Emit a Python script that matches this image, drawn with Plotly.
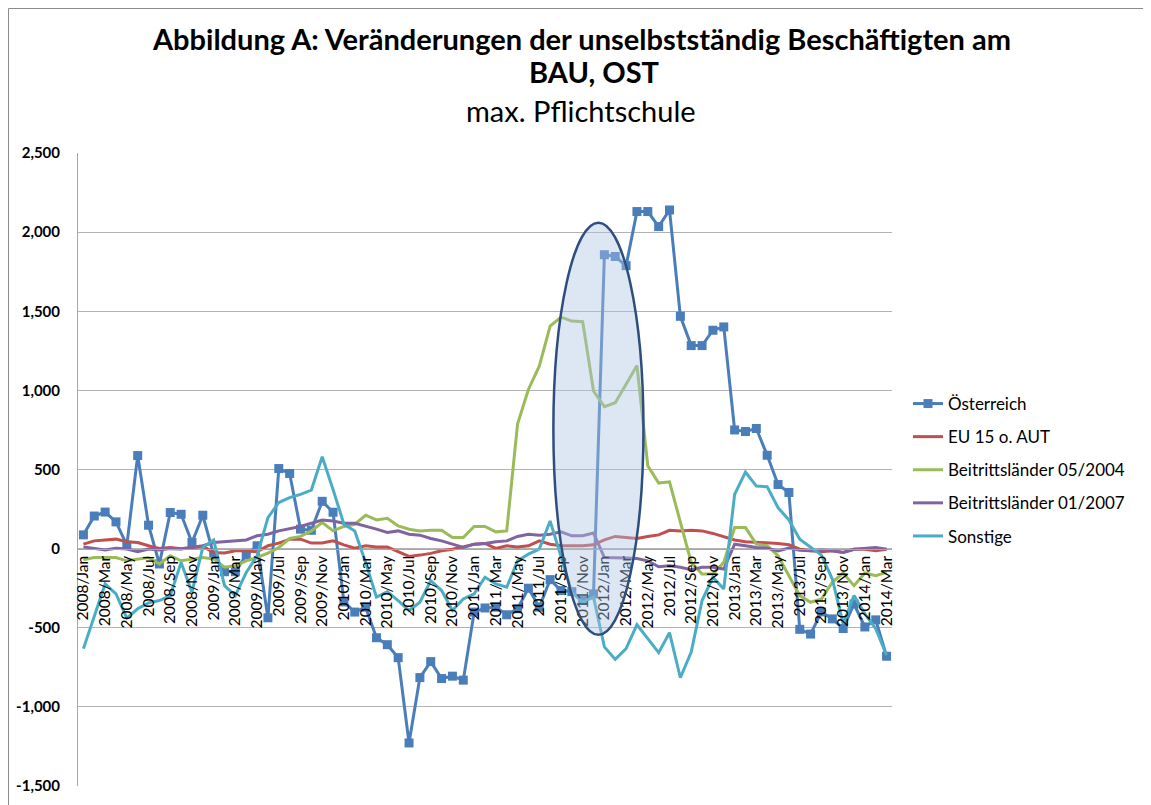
import plotly.graph_objects as go

years = [2008, 2009, 2010, 2011, 2012, 2013, 2014]
months = ["Jan", "Feb", "Mar", "Apr", "May", "Jun", "Jul", "Aug", "Sep", "Oct", "Nov", "Dec"]
categories = [f"{y}/{m}" for y in years for m in months][:75]

oesterreich = [87, 206, 231, 169, 22, 588, 148, -97, 228, 217, 39, 211,
               -40, -146, -146, -40, 18, -437, 506, 475, 123, 116, 299, 230,
               -337, -401, -370, -563, -607, -689, -1228, -815, -714, -821, -806, -831,
               -401, -375, -370, -418, -380, -250, -370, -196, -265, -272, -328, -286,
               1857, 1846, 1788, 2130, 2130, 2035, 2140, 1468, 1283, 1283, 1380, 1401,
               750, 740, 759, 590, 405, 355, -510, -540, -400, -444, -505, -350,
               -495, -450, -680]
eu15 = [28, 49, 55, 60, 43, 39, 18, 1, 7, 0, 7, 14,
        -24, -28, -14, -14, -20, 18, 35, 60, 60, 35, 35, 49,
        24, 3, 18, 11, 11, -20, -49, -41, -30, -14, -4, 11,
        28, 33, 1, 18, 11, 18, 49, 28, 18, 18, 18, 24,
        55, 77, 70, 64, 77, 87, 116, 112, 116, 112, 96, 74,
        55, 43, 39, 39, 33, 24, -4, -14, -20, -14, -24, -4,
        -4, -14, -4]
bl2004 = [-70, -56, -56, -56, -77, -66, -56, -97, -45, -77, -66, -56,
          -66, -118, -108, -77, -56, -28, 7, 64, 77, 112, 165, 112,
          140, 154, 211, 181, 192, 143, 123, 112, 116, 116, 70, 70,
          140, 140, 106, 112, 787, 1006, 1153, 1406, 1463, 1438, 1434, 996,
          897, 922, 1038, 1157, 524, 414, 422, 170, -87, -160, -160, -87,
          133, 133, 28, 18, -45, -171, -297, -339, -318, -213, -154, -234,
          -154, -171, -150]
bl2007 = [11, 3, -8, 3, -2, -20, -2, -8, 0, -2, 7, 18,
          39, 43, 49, 55, 81, 91, 112, 127, 140, 160, 181, 175,
          160, 160, 143, 123, 102, 112, 91, 85, 64, 49, 28, 7,
          28, 33, 43, 49, 77, 91, 85, 91, 106, 81, 81, 98,
          -56, -60, -60, -62, -77, -115, -108, -118, -133, -118, -118, -129,
          28, 18, 7, 3, -14, 3, -10, -14, -8, -14, -24, -4,
          3, 7, -4]
sonstige = [-632, -423, -223, -286, -439, -380, -343, -328, -297, -87, -275, 7,
            55, -234, -297, -150, -45, 196, 291, 322, 343, 370, 580, 374,
            154, 112, -87, -307, -272, -328, -391, -339, -202, -265, -391, -318,
            -286, -181, -223, -244, -77, -35, -3, 175, -45, -275, -339, -307,
            -621, -700, -632, -481, -569, -657, -531, -816, -653, -328, -181, -255,
            343, 483, 395, 391, 259, 181, 60, 7, -41, -192, -475, -297,
            -412, -506, -674]

series_names = ["Österreich", "EU 15 o. AUT", "Beitrittsländer 05/2004",
                "Beitrittsländer 01/2007", "Sonstige"]
series_values = [oesterreich, eu15, bl2004, bl2007, sonstige]
series_colors = ["#4A7EBB", "#C0504D", "#9BBB59", "#8064A2", "#4BACC6"]

y_ticks = [-1500, -1000, -500, 0, 500, 1000, 1500, 2000, 2500]
y_ticktext = ["-1,500", "-1,000", "-500", "0", "500", "1,000", "1,500", "2,000", "2,500"]
x_tickvals = categories[::2]

FONT = "Lato, 'Open Sans', sans-serif"

fig = go.Figure()
for i, (name, vals, col) in enumerate(zip(series_names, series_values, series_colors)):
    is_main = (i == 0)
    fig.add_trace(go.Scatter(
        x=categories, y=vals, name=name,
        mode="lines+markers" if is_main else "lines",
        line=dict(color=col, width=3),
        marker=dict(symbol="square", size=9, color=col) if is_main else None,
        legendgroup=f"g{i}",
    ))

# Highlight ellipse (drawn on top, semi-transparent)
fig.add_shape(type="circle", xref="x", yref="y",
              x0=43.3, x1=51.6, y0=-545, y1=2060,
              line=dict(color="#2E4F7E", width=2.5),
              fillcolor="rgba(175,196,226,0.42)", layer="above")

# page offset (body margin) compensation
OFF = 8
W, H = 1151 - OFF, 805 - OFF
L, R, T, B = 78 - OFF, 892 - OFF, 153 - OFF, 786 - OFF
pw, ph = R - L, B - T
def px(xp): return (xp - OFF - L) / pw
def py(yp): return (B - (yp - OFF)) / ph

fig.add_shape(type="rect", xref="paper", yref="paper",
              x0=px(8.5), x1=px(1148), y0=py(820), y1=py(8.5),
              line=dict(color="#8C8C8C", width=1), fillcolor="rgba(0,0,0,0)", layer="below")

TSIZE = 29
fig.add_annotation(text="<b>Abbildung A: Veränderungen der unselbstständig Beschäftigten am</b>",
                   xref="paper", yref="paper", x=px(581), y=py(38), showarrow=False,
                   font=dict(family=FONT, size=TSIZE, color="black"), xanchor="center", yanchor="middle")
fig.add_annotation(text="<b>BAU, OST</b>",
                   xref="paper", yref="paper", x=px(594), y=py(72), showarrow=False,
                   font=dict(family=FONT, size=TSIZE, color="black"), xanchor="center", yanchor="middle")
fig.add_annotation(text="max. Pflichtschule",
                   xref="paper", yref="paper", x=px(581), y=py(111), showarrow=False,
                   font=dict(family=FONT, size=TSIZE, color="black"), xanchor="center", yanchor="middle")

fig.update_layout(
    width=W, height=H,
    margin=dict(l=L, r=W - R, t=T, b=H - B, autoexpand=False),
    paper_bgcolor="white", plot_bgcolor="white",
    font=dict(family=FONT, color="black"),
    showlegend=True,
    legend=dict(x=px(908), y=py(386), xanchor="left", yanchor="top",
                font=dict(family=FONT, size=17, color="black"),
                traceorder="grouped", tracegroupgap=8,
                bgcolor="rgba(0,0,0,0)"),
    xaxis=dict(type="category", range=[-0.5, 74.5],
               tickmode="array", tickvals=x_tickvals, ticktext=x_tickvals,
               tickangle=-90, tickfont=dict(family=FONT, size=15.5, color="black"),
               anchor="free", position=(0 - (-1500)) / 4000,
               showgrid=False, showline=True, linecolor="#A6A6A6", linewidth=1,
               ticks="", zeroline=False),
    yaxis=dict(range=[-1500, 2500], tickmode="array", tickvals=y_ticks, ticktext=y_ticktext,
               tickfont=dict(family=FONT, size=15, color="black", weight="bold"),
               showgrid=True, gridcolor="#B3B3B3", gridwidth=1,
               showline=True, linecolor="#A6A6A6", linewidth=1,
               zeroline=False, ticks="", ticklabelstandoff=14),
)

fig.write_html("out.html")
